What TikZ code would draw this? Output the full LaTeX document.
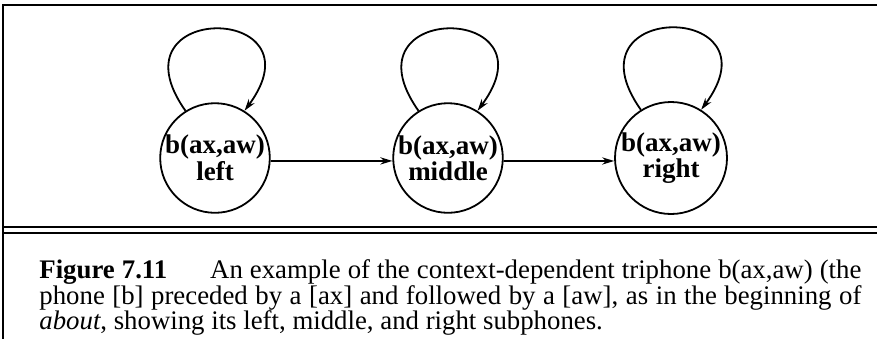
\documentclass[tikz,border=0pt]{standalone}
\usepackage{fontspec}
\setmainfont{Liberation Serif}
\usetikzlibrary{arrows.meta}
\begin{document}
\begin{tikzpicture}[x=0.5pt,y=-0.5pt,
  frame/.style={line width=1pt},
  phone/.style={circle,draw,line width=0.9pt,minimum size=53pt,inner sep=0pt,
    align=center,font=\fontsize{13.5}{11}\selectfont\bfseries},
  arr/.style={line width=0.9pt,-{Stealth[length=6pt,width=3.6pt]}},
  captext/.style={anchor=base west,inner sep=0pt,font=\fontsize{13.4}{15}\selectfont}]
\useasboundingbox (0,0) rectangle (877,339);
\coordinate (tr) at (877,5);
\coordinate (tl) at (3,5);
\coordinate (bl) at (3,339);
\draw[frame] (tr) -- (tl) -- (bl);
\coordinate (d1l) at (3,227);
\coordinate (d1r) at (877,227);
\coordinate (d2l) at (3,232.5);
\coordinate (d2r) at (877,232.5);
\draw[frame] (d1l) -- (d1r);
\draw[frame] (d2l) -- (d2r);
\node[phone] (l) at (215,158) {b(ax,aw)\\left};
\node[phone] (m) at (448,158) {b(ax,aw)\\middle};
\node[phone] (r) at (671,158) {b(ax,aw)\\right};
\foreach \n in {l,m,r}{
  \draw[arr] (\n.122) .. controls +(-78,-110) and +(80,-108) .. (\n.58);
}
\draw[arr] (l.-3) -- (m.-177);
\draw[arr] (m.-3) -- (r.-177);
\node[captext] (c1) at (39,278) {\makebox[411pt][s]{\textbf{Figure 7.11}\hspace{1.6em}An example of the context-dependent triphone b(ax,aw) (the}};
\node[captext] (c2) at (39,304) {\makebox[411pt][s]{phone [b] preceded by a [ax] and followed by a [aw], as in the beginning of}};
\node[captext] (c3) at (39,329) {\textit{about}, showing its left, middle, and right subphones.};
\end{tikzpicture}
\end{document}
